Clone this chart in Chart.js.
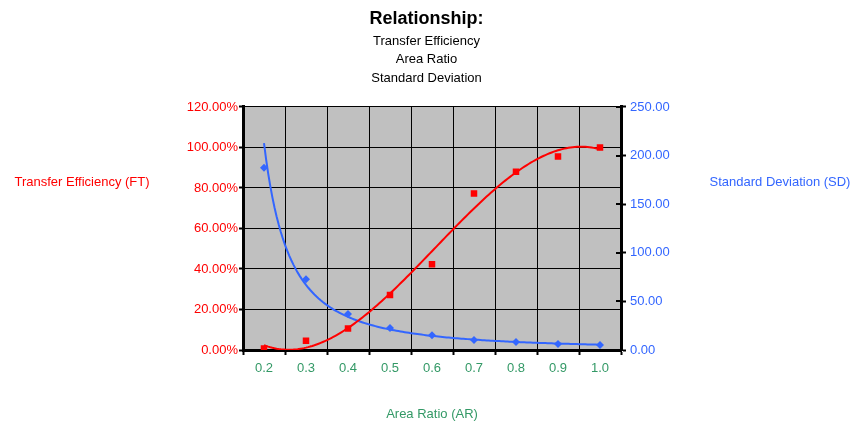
<!DOCTYPE html>
<html>
<head>
<meta charset="utf-8">
<script src="https://cdn.jsdelivr.net/npm/chart.js@4/dist/chart.umd.min.js"></script>
<style>
  html, body { margin: 0; padding: 0; background: #fff; }
  #wrap { width: 853px; height: 424px; }
</style>
</head>
<body>
<div id="wrap"><canvas id="c" width="853" height="424"></canvas></div>
<script>
// Area ratio categories (x axis)
const areaRatio = ['0.2', '0.3', '0.4', '0.5', '0.6', '0.7', '0.8', '0.9', '1.0'];
// Transfer efficiency, percent (left axis)
const transferEfficiency = [0.8, 4.6, 10.6, 27.2, 42.3, 77.3, 88.0, 95.6, 100.0];
// Standard deviation (right axis)
const standardDeviation = [187.4, 72.9, 37.1, 22.7, 15.1, 10.3, 8.3, 6.2, 5.2];
// Axis ranges / steps
const teAxis = { min: 0, max: 120, step: 20 };
const sdAxis = { min: 0, max: 250, step: 50 };

const FONT = 'Liberation Sans, Arial, sans-serif';
const RED = '#ff0000';
const BLUE = '#3366ff';
const GREEN = '#339966';

// Least-squares polynomial fit (x = category number 1..n)
function polyFit(xs, ys, deg) {
  const m = deg + 1;
  const A = Array.from({ length: m }, () => new Array(m + 1).fill(0));
  for (let i = 0; i < xs.length; i++) {
    for (let r = 0; r < m; r++) {
      for (let c = 0; c < m; c++) A[r][c] += Math.pow(xs[i], r + c);
      A[r][m] += ys[i] * Math.pow(xs[i], r);
    }
  }
  for (let p = 0; p < m; p++) {
    let best = p;
    for (let r = p + 1; r < m; r++) if (Math.abs(A[r][p]) > Math.abs(A[best][p])) best = r;
    [A[p], A[best]] = [A[best], A[p]];
    for (let r = 0; r < m; r++) {
      if (r === p) continue;
      const f = A[r][p] / A[p][p];
      for (let c = p; c <= m; c++) A[r][c] -= f * A[p][c];
    }
  }
  return A.map((row, i) => row[m] / row[i]);
}

// Least-squares power fit y = a * x^b
function powerFit(xs, ys) {
  const lx = xs.map(Math.log), ly = ys.map(Math.log);
  const n = xs.length;
  const mx = lx.reduce((s, v) => s + v, 0) / n;
  const my = ly.reduce((s, v) => s + v, 0) / n;
  let sxy = 0, sxx = 0;
  for (let i = 0; i < n; i++) { sxy += (lx[i] - mx) * (ly[i] - my); sxx += (lx[i] - mx) ** 2; }
  const b = sxy / sxx;
  return { a: Math.exp(my - b * mx), b };
}

const idx = areaRatio.map((_, i) => i + 1);
const teCoef = polyFit(idx, transferEfficiency, 3);
const sdPow = powerFit(idx, standardDeviation);

const teTrend = [], sdTrend = [];
for (let k = 0; k <= 160; k++) {
  const x = 1 + k * 0.05;
  teTrend.push({ x, y: teCoef.reduce((s, c, p) => s + c * Math.pow(x, p), 0) });
  sdTrend.push({ x, y: sdPow.a * Math.pow(x, sdPow.b) });
}

// Gray plot area behind everything
const plotBackground = {
  id: 'plotBackground',
  beforeDraw(chart) {
    const { ctx, chartArea: a } = chart;
    ctx.save();
    ctx.fillStyle = '#ffffff';
    ctx.fillRect(0, 0, chart.width, chart.height);
    ctx.fillStyle = '#c0c0c0';
    ctx.fillRect(a.left, a.top, a.right - a.left, a.bottom - a.top);
    ctx.restore();
  }
};

// Tick marks crossing into the plot on the right axis, plus horizontal axis titles
const axisExtras = {
  id: 'axisExtras',
  afterDraw(chart) {
    const { ctx, chartArea: a } = chart;
    const y2 = chart.scales.y2;
    ctx.save();
    ctx.strokeStyle = '#000';
    ctx.lineWidth = 2;
    y2.ticks.forEach((t, i) => {
      const py = Math.round(y2.getPixelForTick(i));
      ctx.beginPath();
      ctx.moveTo(a.right - 5, py);
      ctx.lineTo(a.right, py);
      ctx.stroke();
    });
    ctx.font = '13px ' + FONT;
    ctx.textAlign = 'center';
    ctx.textBaseline = 'middle';
    ctx.fillStyle = RED;
    ctx.fillText('Transfer Efficiency (FT)', 82, a.top + 75);
    ctx.fillStyle = BLUE;
    ctx.fillText('Standard Deviation (SD)', 780, a.top + 75);
    ctx.fillStyle = GREEN;
    ctx.fillText('Area Ratio (AR)', (a.left + a.right) / 2, 414);
    ctx.restore();
  }
};

new Chart(document.getElementById('c'), {
  type: 'line',
  data: {
    labels: areaRatio,
    datasets: [
      {
        label: 'Transfer Efficiency',
        data: transferEfficiency,
        yAxisID: 'y',
        xAxisID: 'x',
        showLine: false,
        pointStyle: 'rect',
        pointRadius: 4.6,
        pointBackgroundColor: RED,
        pointBorderColor: RED,
        pointBorderWidth: 0
      },
      {
        label: 'Standard Deviation',
        data: standardDeviation,
        yAxisID: 'y2',
        xAxisID: 'x',
        showLine: false,
        pointStyle: 'rectRot',
        pointRadius: 4,
        pointBackgroundColor: BLUE,
        pointBorderColor: BLUE,
        pointBorderWidth: 0
      },
      {
        label: 'TE trend',
        data: teTrend,
        yAxisID: 'y',
        xAxisID: 'xt',
        borderColor: RED,
        borderWidth: 2,
        pointRadius: 0,
        tension: 0
      },
      {
        label: 'SD trend',
        data: sdTrend,
        yAxisID: 'y2',
        xAxisID: 'xt',
        borderColor: BLUE,
        borderWidth: 2,
        pointRadius: 0,
        tension: 0
      }
    ]
  },
  options: {
    responsive: false,
    animation: false,
    layout: { padding: 0 },
    plugins: {
      legend: { display: false },
      tooltip: { enabled: false },
      title: {
        display: true,
        text: 'Relationship:',
        color: '#000',
        font: { family: FONT, size: 18, weight: 'bold', lineHeight: 1.2 },
        padding: { top: 8, bottom: 2.5 }
      },
      subtitle: {
        display: true,
        text: ['Transfer Efficiency', 'Area Ratio', 'Standard Deviation'],
        color: '#000',
        font: { family: FONT, size: 13, lineHeight: 1.42 },
        padding: { top: 0, bottom: 19.5 }
      }
    },
    scales: {
      x: {
        type: 'category',
        offset: true,
        grid: { offset: true, color: '#000', lineWidth: 1, tickLength: 5, tickWidth: 2 },
        border: { color: '#000', width: 3 },
        ticks: { color: GREEN, font: { family: FONT, size: 13 }, padding: 6, maxRotation: 0, autoSkip: false },
        afterFit(s) { s.height = 74; }
      },
      xt: { type: 'linear', min: 0.5, max: 9.5, display: false },
      y: {
        position: 'left',
        min: teAxis.min, max: teAxis.max,
        grid: { color: '#000', lineWidth: 1, tickLength: 4, tickWidth: 2 },
        border: { color: '#000', width: 3 },
        ticks: {
          stepSize: teAxis.step, color: RED, padding: 1,
          font: { family: FONT, size: 13 },
          callback: v => v.toFixed(2) + '%'
        },
        afterFit(s) { s.width = 243; }
      },
      y2: {
        position: 'right',
        min: sdAxis.min, max: sdAxis.max,
        grid: { drawOnChartArea: false, color: '#000', tickLength: 5, tickWidth: 2 },
        border: { color: '#000', width: 3 },
        ticks: {
          stepSize: sdAxis.step, color: BLUE, padding: 4,
          font: { family: FONT, size: 13 },
          callback: v => v.toFixed(2)
        },
        afterFit(s) { s.width = 232; }
      }
    }
  },
  plugins: [plotBackground, axisExtras]
});
</script>
</body>
</html>
